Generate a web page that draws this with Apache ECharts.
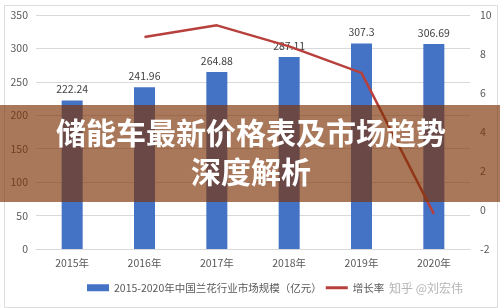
<!DOCTYPE html>
<html><head><meta charset="utf-8">
<script src="https://cdn.jsdelivr.net/npm/echarts@6/dist/echarts.min.js"></script>
<style>html,body{margin:0;padding:0;background:#fff}#c{width:500px;height:308px}</style>
</head><body><div id="c"></div>
<script>
const categories = ['2015年','2016年','2017年','2018年','2019年','2020年'];
const marketSize = [222.24, 241.96, 264.88, 287.11, 307.3, 306.69];
const growthRate = [null, 8.87, 9.47, 8.39, 7.03, -0.2];
const barName = '2015-2020年中国兰花行业市场规模（亿元）';
const lineName = '增长率（%）';
const titleLines = ['储能车最新价格表及市场趋势', '深度解析'];
const watermark = '知乎 @刘宏伟';

const FONT = '"Noto Sans CJK SC", "Noto Sans", sans-serif';
const chart = echarts.init(document.getElementById('c'));
chart.setOption({
  animation: false,
  textStyle: { fontFamily: FONT },
  grid: { left: 36, right: 30, top: 15, bottom: 59 },
  legend: {
    bottom: 10, left: 82, itemWidth: 22, itemHeight: 7, itemGap: 4,
    textStyle: { fontSize: 10.5, color: '#595959', fontFamily: FONT },
    data: [
      { name: barName, icon: 'rect' },
      { name: lineName, icon: 'path://M0,0 L22,0 L22,3 L0,3 Z', itemStyle: { color: '#B8403C' } }
    ]
  },
  xAxis: {
    type: 'category', data: categories,
    axisLine: { show: true, lineStyle: { color: '#d9d9d9' } },
    axisTick: { show: false },
    axisLabel: { color: '#595959', fontSize: 10.5, margin: 9 }
  },
  yAxis: [{
    type: 'value', min: 0, max: 350, interval: 50,
    axisLine: { show: false }, axisTick: { show: false },
    axisLabel: { color: '#595959', fontSize: 10.5, margin: 8 },
    splitLine: { lineStyle: { color: '#d9d9d9' } }
  }, {
    type: 'value', min: -2, max: 10, interval: 2,
    axisLine: { show: false }, axisTick: { show: false },
    axisLabel: { color: '#595959', fontSize: 10.5, margin: 10 },
    splitLine: { show: false }
  }],
  series: [{
    name: barName, type: 'bar', data: marketSize, barWidth: 21,
    itemStyle: { color: '#4472C4' },
    label: { show: true, position: 'top', color: '#404040', fontSize: 10.5, distance: 6 }
  }, {
    name: lineName, type: 'line', yAxisIndex: 1, data: growthRate,
    showSymbol: false, symbol: 'none',
    lineStyle: { color: '#B8403C', width: 2.5 },
    itemStyle: { color: '#B8403C' }
  }],
  graphic: [
    { type: 'rect', left: 2, top: 3, shape: { width: 493, height: 302 },
      style: { fill: 'none', stroke: '#dcdcdc', lineWidth: 1 }, z: 0 },
    { type: 'text', left: 387, top: 281, z: 50,
      style: { text: watermark, fill: '#b5b5b5', font: '12px ' + FONT,
        backgroundColor: 'rgba(255,255,255,0.9)', padding: [1, 4, 1, 2] } },
    { type: 'rect', left: 0, top: 105, shape: { width: 500, height: 97 },
      style: { fill: 'rgba(125,50,5,0.66)' }, z: 100 },
    { type: 'text', x: 251, y: 133, z: 101,
      style: { text: titleLines[0], fill: '#fff', font: 'bold 30px ' + FONT,
        align: 'center', verticalAlign: 'middle',
        shadowColor: 'rgba(0,0,0,0.35)', shadowBlur: 3, shadowOffsetX: 1, shadowOffsetY: 1 } },
    { type: 'text', x: 251, y: 172, z: 101,
      style: { text: titleLines[1], fill: '#fff', font: 'bold 30px ' + FONT,
        align: 'center', verticalAlign: 'middle',
        shadowColor: 'rgba(0,0,0,0.35)', shadowBlur: 3, shadowOffsetX: 1, shadowOffsetY: 1 } }
  ]
});
</script></body></html>
